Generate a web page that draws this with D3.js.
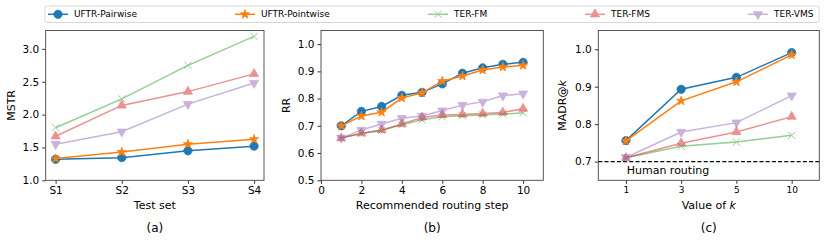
<!DOCTYPE html>
<html>
<head>
<meta charset="utf-8">
<script src="https://cdn.jsdelivr.net/npm/d3@7"></script>
<style>
  body { margin: 0; background: #fff; }
  svg { display: block; font-family: "DejaVu Sans", sans-serif; }
</style>
</head>
<body>
<svg id="chart" width="830" height="244"></svg>
<script>
// series names / styles (legend order = draw order)
const seriesNames = ['UFTR-Pairwise', 'UFTR-Pointwise', 'TER-FM', 'TER-FMS', 'TER-VMS']

// (a) MSTR per test set
const testSets = ['S1', 'S2', 'S3', 'S4']
const mstr = [
  [1.32, 1.345, 1.45, 1.52],
  [1.33, 1.43, 1.55, 1.625],
  [1.80, 2.24, 2.75, 3.19],
  [1.67, 2.14, 2.35, 2.62],
  [1.55, 1.74, 2.16, 2.48]
]

// (b) RR per recommended routing step
const steps = [1, 2, 3, 4, 5, 6, 7, 8, 9, 10]
const rr = [
  [0.700, 0.753, 0.771, 0.812, 0.823, 0.854, 0.893, 0.913, 0.926, 0.933],
  [0.700, 0.736, 0.750, 0.802, 0.821, 0.864, 0.883, 0.905, 0.916, 0.922],
  [0.655, 0.672, 0.683, 0.704, 0.722, 0.733, 0.737, 0.740, 0.743, 0.748],
  [0.655, 0.673, 0.685, 0.707, 0.731, 0.740, 0.742, 0.745, 0.749, 0.763],
  [0.655, 0.685, 0.707, 0.728, 0.736, 0.756, 0.776, 0.788, 0.811, 0.818]
]

// (c) MADR@k
const kValues = ['1', '3', '5', '10']
const madr = [
  [0.756, 0.893, 0.925, 0.991],
  [0.755, 0.862, 0.913, 0.985],
  [0.710, 0.741, 0.752, 0.770],
  [0.710, 0.749, 0.779, 0.820],
  [0.711, 0.779, 0.804, 0.876]
]
const humanRouting = 0.7

const ticksA = [1.0, 1.5, 2.0, 2.5, 3.0]
const ticksB = [0.5, 0.6, 0.7, 0.8, 0.9, 1.0]
const ticksBx = [0, 2, 4, 6, 8, 10]
const ticksC = [0.7, 0.8, 0.9, 1.0]

const colors = ['#1f77b4', '#ff7f0e', '#2ca02c', '#d62728', '#9467bd']
const alphas = [1, 1, 0.5, 0.5, 0.5]
const markers = ['circle', 'star', 'x', 'tri', 'tridown']

const svg = d3.select('#chart')
const TOP = 30.5, BOTTOM = 180.3
const TICK_FS = 10.5, LABEL_FS = 11

function markerPath(kind) {
  if (kind === 'circle') return d3.symbol(d3.symbolCircle, 54)()
  if (kind === 'star') return d3.symbol(d3.symbolStar, 26)()
  if (kind === 'tri') return d3.symbol(d3.symbolTriangle, 36)()
  if (kind === 'tridown') return d3.symbol(d3.symbolTriangle, 36)()
  return 'M-3.6,-3.6L3.6,3.6M-3.6,3.6L3.6,-3.6'
}

function drawMarker(g, kind, color, x, y) {
  const p = g.append('path').attr('d', markerPath(kind))
    .attr('transform', `translate(${x},${y})` + (kind === 'tridown' ? ' rotate(180)' : ''))
  if (kind === 'x') p.attr('fill', 'none').attr('stroke', color).attr('stroke-width', 1)
  else p.attr('fill', color).attr('stroke', color).attr('stroke-width', 0.8)
}

function panel(opt) {
  const g = svg.append('g')
  const x = d3.scaleLinear().domain(opt.xDomain).range([opt.left, opt.right])
  const y = d3.scaleLinear().domain(opt.yDomain).range([BOTTOM, TOP])

  // y axis
  const ya = g.append('g').attr('transform', `translate(${opt.left},0)`)
    .call(d3.axisLeft(y).tickValues(opt.yTicks).tickFormat(d3.format('.1f')).tickSize(3.5).tickPadding(3))
  ya.select('.domain').remove()
  ya.selectAll('text').attr('font-size', TICK_FS).attr('fill', '#000').attr('font-family', 'DejaVu Sans')
  ya.selectAll('line').attr('stroke', '#000').attr('stroke-width', 0.8)

  // x axis
  const xa = g.append('g').attr('transform', `translate(0,${BOTTOM})`)
    .call(d3.axisBottom(x).tickValues(opt.xTickVals).tickFormat((d, i) => opt.xTickLabels[i]).tickSize(3.5).tickPadding(3))
  xa.select('.domain').remove()
  xa.selectAll('text').attr('font-size', opt.xTickSize || TICK_FS).attr('fill', '#000').attr('font-family', 'DejaVu Sans')
  xa.selectAll('line').attr('stroke', '#000').attr('stroke-width', 0.8)

  if (opt.hline !== undefined) {
    g.append('line')
      .attr('x1', opt.left).attr('x2', opt.right)
      .attr('y1', y(opt.hline)).attr('y2', y(opt.hline))
      .attr('stroke', '#000').attr('stroke-width', 1.1).attr('stroke-dasharray', '4,2.2')
    g.append('text').attr('x', opt.hlineX).attr('y', y(opt.hline) + 12.5)
      .attr('font-size', LABEL_FS).text(opt.hlineLabel)
  }

  // series
  opt.data.forEach((vals, s) => {
    const sg = g.append('g').attr('opacity', alphas[s])
    const pts = vals.map((v, i) => [x(opt.xs[i]), y(v)])
    sg.append('path').attr('d', d3.line()(pts))
      .attr('fill', 'none').attr('stroke', colors[s]).attr('stroke-width', 1.5)
    pts.forEach(p => drawMarker(sg, markers[s], colors[s], p[0], p[1]))
  })

  // frame
  g.append('rect').attr('x', opt.left).attr('y', TOP)
    .attr('width', opt.right - opt.left).attr('height', BOTTOM - TOP)
    .attr('fill', 'none').attr('stroke', '#444').attr('stroke-width', 0.9)

  // labels
  const cx = (opt.left + opt.right) / 2
  const xl = g.append('text').attr('x', cx).attr('y', 209)
    .attr('text-anchor', 'middle').attr('font-size', LABEL_FS)
  xl.append('tspan').text(opt.xLabel)
  if (opt.xLabelItalic) xl.append('tspan').attr('font-style', 'italic').text(opt.xLabelItalic)

  const yl = g.append('text')
    .attr('transform', `translate(${opt.yLabelX},${(TOP + BOTTOM) / 2}) rotate(-90)`)
    .attr('text-anchor', 'middle').attr('dy', '0.35em').attr('font-size', LABEL_FS)
  yl.append('tspan').text(opt.yLabel)
  if (opt.yLabelItalic) yl.append('tspan').attr('font-style', 'italic').text(opt.yLabelItalic)

  g.append('text').attr('x', cx).attr('y', 232)
    .attr('text-anchor', 'middle').attr('font-size', 12).text(opt.caption)
}

const idx4 = [0, 1, 2, 3]

panel({
  left: 45.7, right: 264, xDomain: [-0.15, 3.15], yDomain: [1.0, 3.28],
  xs: idx4, xTickVals: idx4, xTickLabels: testSets, yTicks: ticksA,
  data: mstr, xLabel: 'Test set', yLabel: 'MSTR', yLabelX: 11.5, caption: '(a)'
})

panel({
  left: 321, right: 543.3, xDomain: [0, 11], yDomain: [0.5, 1.05],
  xs: steps, xTickVals: ticksBx, xTickLabels: ticksBx.map(String), yTicks: ticksB,
  data: rr, xLabel: 'Recommended routing step', yLabel: 'RR', yLabelX: 286, caption: '(b)'
})

panel({
  left: 598.3, right: 819.3, xDomain: [-0.5, 3.5], yDomain: [0.65, 1.05],
  xs: idx4, xTickVals: idx4, xTickLabels: kValues, xTickSize: 9, yTicks: ticksC,
  data: madr, xLabel: 'Value of ', xLabelItalic: 'k', yLabel: 'MADR@', yLabelItalic: 'k',
  yLabelX: 562, caption: '(c)',
  hline: humanRouting, hlineX: 626.7, hlineLabel: 'Human routing'
})

// legend
const legendX = [48, 235, 428, 585, 748]
const lg = svg.append('g')
lg.append('rect').attr('x', 45).attr('y', 6).attr('width', 774).attr('height', 16.5)
  .attr('rx', 2).attr('fill', '#fff').attr('stroke', '#ccc').attr('stroke-width', 0.8)
seriesNames.forEach((name, s) => {
  const eg = lg.append('g').attr('opacity', alphas[s])
  const x0 = legendX[s], yc = 14.3
  eg.append('line').attr('x1', x0).attr('x2', x0 + 20).attr('y1', yc).attr('y2', yc)
    .attr('stroke', colors[s]).attr('stroke-width', 1.5)
  drawMarker(eg, markers[s], colors[s], x0 + 10, yc)
  lg.append('text').attr('x', x0 + 26).attr('y', yc).attr('dy', '0.35em')
    .attr('font-size', 9).text(name)
})
</script>
</body>
</html>
